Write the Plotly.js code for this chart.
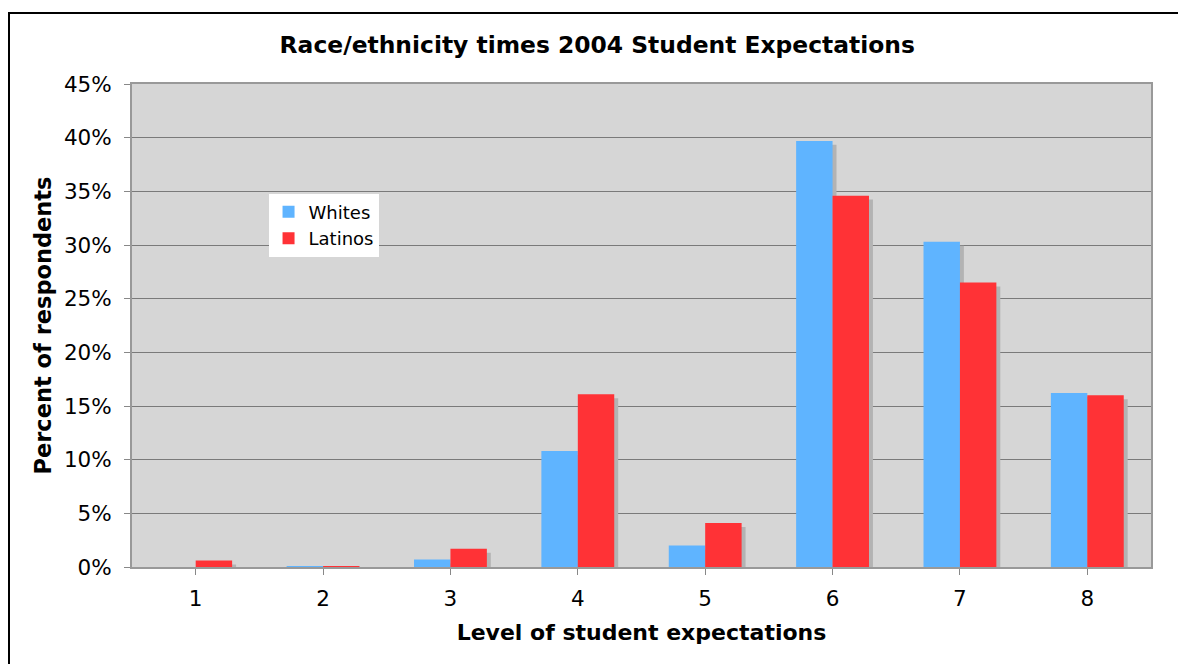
<!DOCTYPE html>
<html>
<head>
<meta charset="utf-8">
<script src="https://cdn.plot.ly/plotly-3.0.1.min.js"></script>
<style>
  html, body { margin: 0; padding: 0; background: #ffffff; overflow: hidden; }
  #frame { position: absolute; left: 8px; top: 12px; width: 1200px; height: 700px;
           border-left: 2px solid #000; border-top: 2px solid #000; }
  #chart { position: absolute; left: 0; top: 0; width: 1178px; height: 664px; }
</style>
</head>
<body>
<div id="frame"></div>
<div id="chart"></div>
<script>
// Data
const levels = ["1", "2", "3", "4", "5", "6", "7", "8"];
const whites = [0.0, 0.1, 0.7, 10.8, 2.0, 39.7, 30.3, 16.2];
const latinos = [0.6, 0.1, 1.7, 16.1, 4.1, 34.6, 26.5, 16.0];
const yTickVals = [0, 5, 10, 15, 20, 25, 30, 35, 40, 45];
const yTickText = yTickVals.map(v => v + "%");

const FONT = "DejaVu Sans, Verdana, sans-serif";
const barW = 0.286;       // bar width in category units
const shX = 0.031;        // shadow shift right (category units)
const shY = 0.37;         // shadow shift down (percent units)

const xs = levels.map((_, i) => i + 1);

const traces = [
  { type: "bar", x: xs, y: whites, base: xs.map(() => -shY), offset: -barW + shX, width: barW,
    marker: { color: "#b3b3b3", line: { width: 0 } }, showlegend: false, hoverinfo: "skip" },
  { type: "bar", x: xs, y: latinos, base: xs.map(() => -shY), offset: shX, width: barW,
    marker: { color: "#b3b3b3", line: { width: 0 } }, showlegend: false, hoverinfo: "skip" },
  { type: "bar", name: "Whites", x: xs, y: whites, offset: -barW, width: barW,
    marker: { color: "#5fb4ff", line: { width: 0 } } },
  { type: "bar", name: "Latinos", x: xs, y: latinos, offset: 0, width: barW,
    marker: { color: "#ff3236", line: { width: 0 } } }
];

const layout = {
  width: 1178, height: 664,
  paper_bgcolor: "rgba(0,0,0,0)",
  plot_bgcolor: "#d6d6d6",
  barmode: "overlay",
  margin: { l: 132, r: 27, t: 84, b: 97 },
  font: { family: FONT, color: "#000" },
  title: { text: "<b>Race/ethnicity times 2004 Student Expectations</b>",
           font: { family: FONT, size: 23.4, color: "#000" },
           x: 0.507, xanchor: "center", y: 0.932, yanchor: "middle" },
  xaxis: {
    range: [0.5, 8.5], tickvals: xs, ticktext: levels, tickmode: "array",
    tickson: "boundaries", ticks: "outside", ticklen: 6, tickcolor: "#888",
    ticklabelstandoff: 5,
    showgrid: false, zeroline: false,
    showline: true, linecolor: "#999", linewidth: 2, mirror: true,
    tickfont: { family: FONT, size: 21.5 },
    title: { text: "<b>Level of student expectations</b>", font: { family: FONT, size: 22 }, standoff: 15 }
  },
  yaxis: {
    range: [0, 45], tickvals: yTickVals, ticktext: yTickText, tickmode: "array",
    ticks: "outside", ticklen: 6, tickcolor: "#888",
    ticklabelstandoff: 8,
    showgrid: true, gridcolor: "#7a7a7a", gridwidth: 1, zeroline: false,
    showline: true, linecolor: "#999", linewidth: 2, mirror: true,
    tickfont: { family: FONT, size: 21.5 },
    title: { text: "<b>Percent of respondents</b>", font: { family: FONT, size: 22.5 }, standoff: 6 }
  },
  legend: {
    x: 0.134, y: 0.773, xanchor: "left", yanchor: "top",
    bgcolor: "#ffffff", borderwidth: 0,
    font: { family: FONT, size: 18 },
    itemwidth: 30, tracegroupgap: 2
  },
  showlegend: true
};

Plotly.newPlot("chart", traces, layout, { displayModeBar: false, staticPlot: true });
</script>
</body>
</html>
